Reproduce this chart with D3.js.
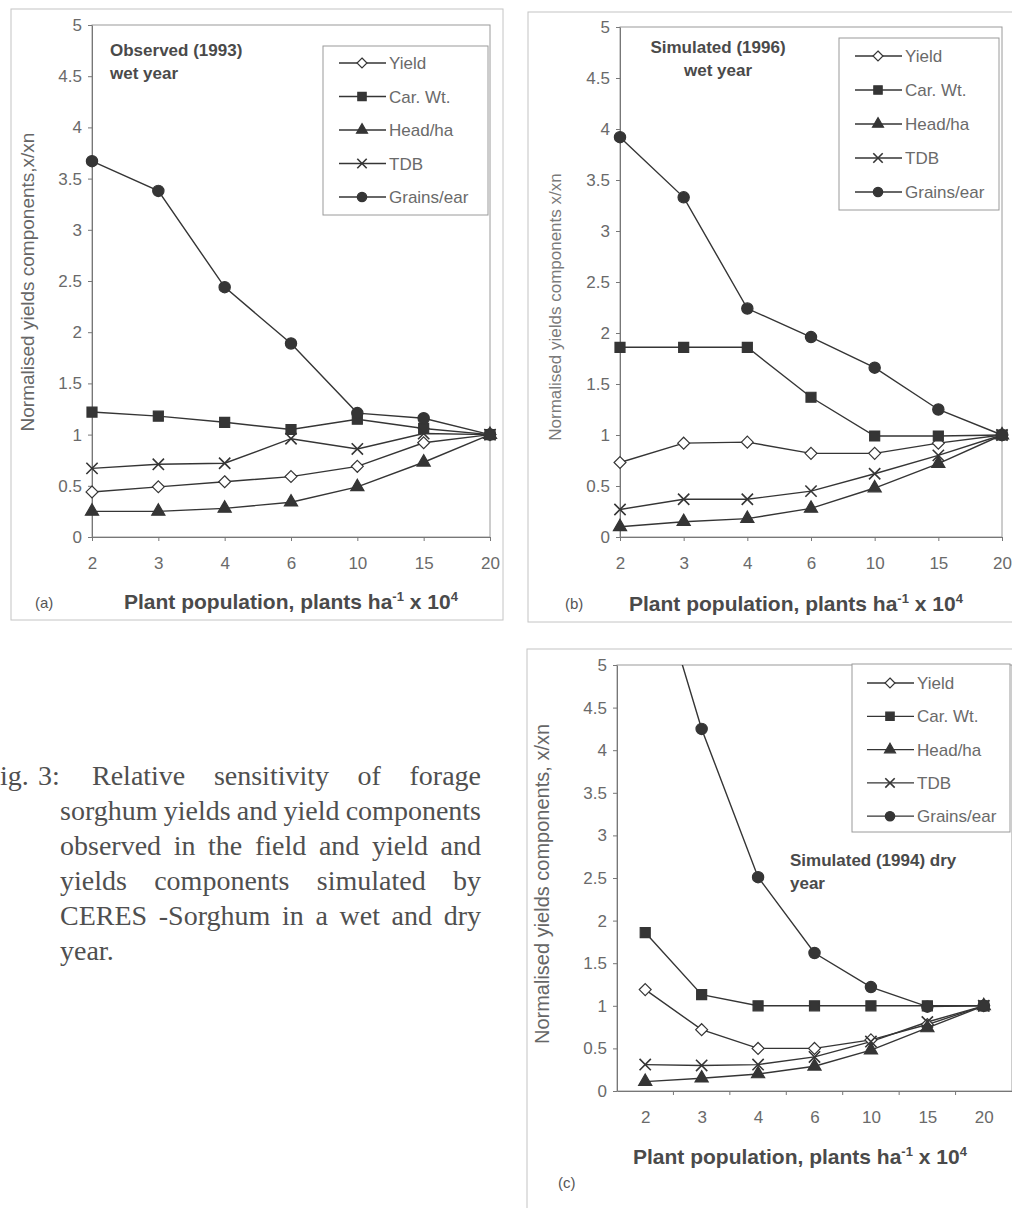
<!DOCTYPE html>
<html>
<head>
<meta charset="utf-8">
<script src="https://cdn.jsdelivr.net/npm/d3@7"></script>
<style>
  body { margin: 0; background: #fff; }
  svg { display: block; font-family: "Liberation Sans", Arial, sans-serif; }
</style>
</head>
<body>
<div id="chart"></div>
<script>
// categories and legend
const populations = ["2", "3", "4", "6", "10", "15", "20"];
const seriesNames = ["Yield", "Car. Wt.", "Head/ha", "TDB", "Grains/ear"];
const yTicks = [0, 0.5, 1, 1.5, 2, 2.5, 3, 3.5, 4, 4.5, 5];

// (a) observed 1993, wet year
const yieldA  = [0.44, 0.49, 0.54, 0.59, 0.69, 0.92, 1.0];
const carWtA  = [1.22, 1.18, 1.12, 1.05, 1.15, 1.06, 1.0];
const headA   = [0.25, 0.25, 0.28, 0.34, 0.49, 0.73, 1.0];
const tdbA    = [0.67, 0.71, 0.72, 0.96, 0.86, 1.01, 1.0];
const grainsA = [3.67, 3.38, 2.44, 1.89, 1.21, 1.16, 1.0];

// (b) simulated 1996, wet year
const yieldB  = [0.73, 0.92, 0.93, 0.82, 0.82, 0.92, 1.0];
const carWtB  = [1.86, 1.86, 1.86, 1.37, 0.99, 0.99, 1.0];
const headB   = [0.10, 0.15, 0.18, 0.28, 0.48, 0.72, 1.0];
const tdbB    = [0.27, 0.37, 0.37, 0.45, 0.62, 0.80, 1.0];
const grainsB = [3.92, 3.33, 2.24, 1.96, 1.66, 1.25, 1.0];

// (c) simulated 1994, dry year
const yieldC  = [1.19, 0.72, 0.50, 0.50, 0.60, 0.78, 1.0];
const carWtC  = [1.86, 1.13, 1.00, 1.00, 1.00, 1.00, 1.0];
const headC   = [0.11, 0.15, 0.20, 0.29, 0.48, 0.74, 1.0];
const tdbC    = [0.31, 0.30, 0.31, 0.40, 0.58, 0.81, 1.0];
const grainsC = [6.45, 4.25, 2.51, 1.62, 1.22, 0.99, 1.0];

const captionLines = [
  "sorghum yields and yield components",
  "observed in the field and yield and",
  "yields components simulated by",
  "CERES -Sorghum in a wet and dry",
  "year."
];

const W = 1012, H = 1208;
const ink = "#353535";

const svg = d3.select("#chart").append("svg")
  .attr("width", W)
  .attr("height", H);

const symbolTypes = [d3.symbolDiamond2, d3.symbolSquare, d3.symbolTriangle, d3.symbolTimes, d3.symbolCircle];
const symbolFill  = ["#fff", ink, ink, "none", ink];
const symbolSize  = [90, 100, 75, 85, 100];

function marker(sel, i, scale) {
  sel.attr("d", d3.symbol().type(symbolTypes[i]).size(symbolSize[i] * scale)())
    .attr("fill", symbolFill[i])
    .attr("stroke", ink)
    .attr("stroke-width", i == 3 ? 1.6 : 1.2);
}

function drawPanel(p) {
  let g = svg.append("g");

  // outer frame
  g.append("rect")
    .attr("x", p.frame[0]).attr("y", p.frame[1])
    .attr("width", p.frame[2] - p.frame[0]).attr("height", p.frame[3] - p.frame[1])
    .attr("fill", "none").attr("stroke", "#c4c4c4");

  let x = d3.scalePoint().domain(populations).range(p.xRange).padding(p.between ? 0.5 : 0);
  let y = d3.scaleLinear().domain([0, 5]).range(p.yRange);

  // plot area border
  g.append("rect")
    .attr("x", p.xRange[0]).attr("y", y(5))
    .attr("width", p.xRange[1] - p.xRange[0]).attr("height", y(0) - y(5))
    .attr("fill", "none").attr("stroke", "#9a9a9a");

  // y axis
  let yAxis = g.append("g")
    .attr("transform", "translate(" + p.xRange[0] + ",0)")
    .call(d3.axisLeft(y).tickValues(yTicks).tickFormat(d3.format("~g"))
      .tickSize(4).tickPadding(6).tickSizeOuter(0));

  // x axis
  let xAxis = g.append("g")
    .attr("transform", "translate(0," + y(0) + ")")
    .call(d3.axisBottom(x).tickSize(p.between ? 0 : 4).tickPadding(p.between ? 20 : 16).tickSizeOuter(0));

  if (p.between) {
    // category boundaries, Excel "between tick marks"
    let step = x.step();
    g.selectAll(".btick")
      .data(populations.slice(1))
      .enter()
      .append("line")
      .attr("x1", (d) => x(d) - step / 2)
      .attr("x2", (d) => x(d) - step / 2)
      .attr("y1", y(0))
      .attr("y2", y(0) + 4)
      .attr("stroke", "#777");
  }

  [yAxis, xAxis].forEach((a) => {
    a.select(".domain").attr("stroke", "#777");
    a.selectAll(".tick line").attr("stroke", "#777");
    a.selectAll(".tick text")
      .attr("fill", "#6a6a6a")
      .style("font-size", "17px")
      .style("font-family", "'Liberation Sans', Arial, sans-serif");
  });

  // clip for series running off the top
  let clipId = "clip-" + p.id;
  g.append("clipPath").attr("id", clipId)
    .append("rect")
    .attr("x", p.xRange[0] - 8).attr("y", y(5))
    .attr("width", p.xRange[1] - p.xRange[0] + 16).attr("height", y(0) - y(5) + 8);

  let line = d3.line()
    .x((d, i) => x(populations[i]))
    .y((d) => y(d));

  let plot = g.append("g").attr("clip-path", "url(#" + clipId + ")");

  p.series.forEach((vals, si) => {
    plot.append("path")
      .datum(vals)
      .attr("d", line)
      .attr("fill", "none")
      .attr("stroke", ink)
      .attr("stroke-width", 1.4);
  });

  p.series.forEach((vals, si) => {
    plot.selectAll(".m" + si)
      .data(vals)
      .enter()
      .append("path")
      .attr("class", "m" + si)
      .attr("transform", (d, i) => "translate(" + x(populations[i]) + "," + y(d) + ")")
      .call(marker, si, 1);
  });

  // legend
  let lg = g.append("g");
  lg.append("rect")
    .attr("x", p.legend.x0).attr("y", p.legend.y0)
    .attr("width", p.legend.x1 - p.legend.x0).attr("height", p.legend.y1 - p.legend.y0)
    .attr("fill", "#fff").attr("stroke", "#9a9a9a");

  seriesNames.forEach((name, i) => {
    let ry = p.legend.row0 + i * p.legend.step;
    lg.append("line")
      .attr("x1", p.legend.lx).attr("x2", p.legend.lx + 47)
      .attr("y1", ry).attr("y2", ry)
      .attr("stroke", ink).attr("stroke-width", 1.3);
    lg.append("path")
      .attr("transform", "translate(" + (p.legend.lx + 23) + "," + ry + ")")
      .call(marker, i, 0.7);
    lg.append("text")
      .attr("x", p.legend.lx + 50)
      .attr("y", ry + 6)
      .attr("fill", "#6a6a6a")
      .style("font-size", "17px")
      .text(name);
  });

  // panel title
  let t = g.append("text")
    .attr("x", p.title.x).attr("y", p.title.y)
    .attr("text-anchor", p.title.anchor)
    .attr("fill", "#4a4a4a")
    .style("font-size", "17px")
    .style("font-weight", "bold");
  p.title.lines.forEach((s, i) => {
    t.append("tspan")
      .attr("x", p.title.x)
      .attr("dy", i == 0 ? 0 : 23)
      .text(s);
  });

  // axis titles
  g.append("text")
    .attr("transform", "translate(" + p.yLabel.x + "," + p.yLabel.y + ") rotate(-90)")
    .attr("text-anchor", "middle")
    .attr("fill", p.yLabel.color)
    .style("font-size", p.yLabel.size + "px")
    .text(p.yLabel.text);

  let xl = g.append("text")
    .attr("x", p.xLabel.x).attr("y", p.xLabel.y)
    .attr("fill", "#4a4a4a")
    .style("font-size", "21px")
    .style("font-weight", "bold");
  xl.append("tspan").text("Plant population, plants ha");
  xl.append("tspan").attr("dy", -8).style("font-size", "13px").text("-1");
  xl.append("tspan").attr("dy", 8).text(" x 10");
  xl.append("tspan").attr("dy", -8).style("font-size", "13px").text("4");

  g.append("text")
    .attr("x", p.tag.x).attr("y", p.tag.y)
    .attr("fill", "#555")
    .style("font-size", "15px")
    .text(p.tag.text);
}

drawPanel({
  id: "a",
  frame: [11, 9, 503, 620],
  xRange: [92, 490],
  yRange: [537, 25],
  between: false,
  series: [yieldA, carWtA, headA, tdbA, grainsA],
  legend: { x0: 323, y0: 46, x1: 488, y1: 215, row0: 63, step: 33.5, lx: 339 },
  title: { x: 110, y: 56, anchor: "start", lines: ["Observed (1993)", "wet year"] },
  yLabel: { x: 34, y: 282, size: 19, color: "#666", text: "Normalised yields components,x/xn" },
  xLabel: { x: 124, y: 609 },
  tag: { x: 35, y: 608, text: "(a)" }
});

drawPanel({
  id: "b",
  frame: [528, 12, 1016, 622],
  xRange: [620, 1002],
  yRange: [537, 27],
  between: false,
  series: [yieldB, carWtB, headB, tdbB, grainsB],
  legend: { x0: 839, y0: 38, x1: 999, y1: 210, row0: 56, step: 34, lx: 855 },
  title: { x: 718, y: 53, anchor: "middle", lines: ["Simulated (1996)", "wet year"] },
  yLabel: { x: 561, y: 307, size: 17, color: "#7a7a7a", text: "Normalised yields components x/xn" },
  xLabel: { x: 629, y: 611 },
  tag: { x: 565, y: 609, text: "(b)" }
});

drawPanel({
  id: "c",
  frame: [527, 649, 1016, 1212],
  xRange: [617, 1012],
  yRange: [1091, 665],
  between: true,
  series: [yieldC, carWtC, headC, tdbC, grainsC],
  legend: { x0: 852, y0: 664, x1: 1010, y1: 832, row0: 683, step: 33.3, lx: 867 },
  title: { x: 790, y: 866, anchor: "start", lines: ["Simulated (1994) dry", "year"] },
  yLabel: { x: 549, y: 884, size: 20, color: "#666", text: "Normalised yields components, x/xn" },
  xLabel: { x: 633, y: 1164 },
  tag: { x: 558, y: 1188, text: "(c)" }
});

// figure caption, justified
let cap = svg.append("g")
  .attr("fill", "#4f4f4f")
  .style("font-family", "'Liberation Serif', 'Times New Roman', serif")
  .style("font-size", "28px");

function justify(words, x0, x1, yb) {
  let nodes = words.map((w) => cap.append("text").attr("y", yb).text(w));
  let widths = nodes.map((n) => n.node().getComputedTextLength());
  let total = d3.sum(widths);
  let gap = words.length > 1 ? (x1 - x0 - total) / (words.length - 1) : 0;
  let cx = x0;
  nodes.forEach((n, i) => {
    n.attr("x", cx);
    cx += widths[i] + gap;
  });
}

cap.append("text").attr("x", 0).attr("y", 785).text("ig.");
cap.append("text").attr("x", 38).attr("y", 785).text("3:");
justify(["Relative", "sensitivity", "of", "forage"], 92, 481, 785);
captionLines.forEach((s, i) => {
  if (i == captionLines.length - 1) {
    cap.append("text").attr("x", 60).attr("y", 820 + i * 35).text(s);
  } else {
    justify(s.split(" "), 60, 481, 820 + i * 35);
  }
});
</script>
</body>
</html>
